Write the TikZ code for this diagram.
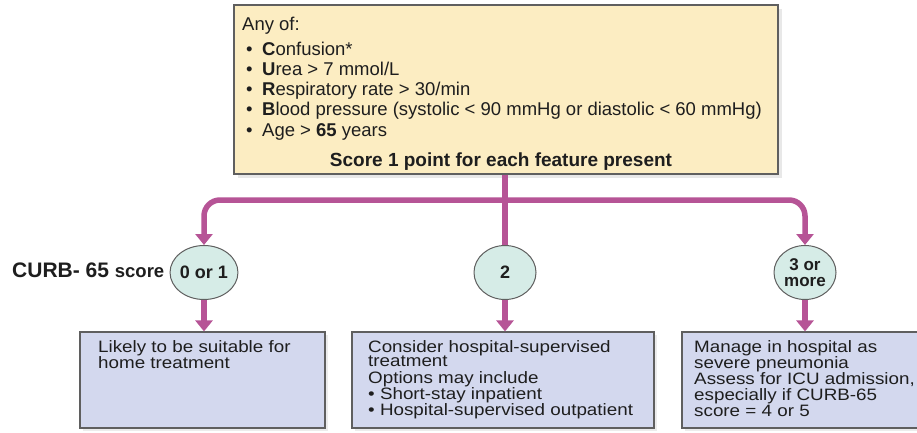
\documentclass[tikz,border=0pt]{standalone}
\usepackage{fontspec}
\setmainfont{Liberation Sans}
\newfontfamily\boxfont[FakeStretch=1.14]{Liberation Sans}
\usetikzlibrary{arrows.meta,shadows,shapes.geometric}
\definecolor{topfill}{RGB}{252,237,194}
\definecolor{boxfill}{RGB}{211,216,238}
\definecolor{circfill}{RGB}{214,236,231}
\definecolor{connc}{RGB}{182,84,150}
\definecolor{edgec}{RGB}{95,95,95}
\definecolor{txt}{RGB}{30,30,30}
\begin{document}
\begin{tikzpicture}[x=1pt,y=-1pt,
  topbox/.style={draw=edgec, line width=1.3pt, fill=topfill, inner sep=0,
    drop shadow={opacity=0.18, shadow xshift=4pt, shadow yshift=-4pt}},
  resbox/.style={draw=edgec, line width=1.2pt, fill=boxfill, inner sep=0,
    drop shadow={opacity=0.15, shadow xshift=3pt, shadow yshift=-3pt}},
  circ/.style={ellipse, draw=edgec, line width=1pt, fill=circfill, inner sep=0,
    minimum width=62pt, minimum height=54pt, align=center, text=txt,
    font=\bfseries\fontsize{18}{16}\selectfont},
  toptext/.style={anchor=base west, inner sep=0, text=txt, font=\fontsize{18.5}{20.3}\selectfont},
  restext/.style={anchor=base west, inner sep=0, text=txt, font=\boxfont\fontsize{16.5}{14}\selectfont},
  conn/.style={draw=connc, line width=5.5pt},
  arr/.style={-{Triangle[width=17pt,length=11pt]}}
]
\useasboundingbox[fill=white] (0,0) rectangle (917,432);

% top box
\node[topbox, minimum width=544pt, minimum height=169pt] (top) at (506,89.5) {};
\node[toptext] (anyof) at (242,30) {Any of:};
\node[toptext] (crit) at (246,55) {\begin{tabular}[t]{@{}l@{}}
\makebox[16pt][l]{\textbullet}\textbf{C}onfusion*\\
\makebox[16pt][l]{\textbullet}\textbf{U}rea > 7 mmol/L\\
\makebox[16pt][l]{\textbullet}\textbf{R}espiratory rate > 30/min\\
\makebox[16pt][l]{\textbullet}\textbf{B}lood pressure (systolic < 90 mmHg or diastolic < 60 mmHg)\\
\makebox[16pt][l]{\textbullet}Age > \textbf{65} years
\end{tabular}};
\node[anchor=base, inner sep=0, text=txt, font=\bfseries\fontsize{19}{21}\selectfont] (score) at (501,166) {Score 1 point for each feature present};

% circles
\node[circ] (c1) at (204,272.5) {0 or 1};
\node[circ] (c2) at (505,272.5) {2};
\node[circ, font=\bfseries\fontsize{17}{16}\selectfont] (c3) at (805,272.5) {3 or\\more};
\node[anchor=base west, inner sep=0, text=txt] (lab) at (12,277)
  {\bfseries\fontsize{21}{21}\selectfont CURB- 65 \fontsize{18.5}{21}\selectfont score};

% result boxes
\node[resbox, minimum width=245pt, minimum height=96pt] (b1) at (202.5,380) {};
\node[resbox, minimum width=302pt, minimum height=96pt] (b2) at (503,380) {};
\node[resbox, minimum width=245pt, minimum height=96pt] (b3) at (804.5,380) {};

\node[restext] (b1t) at (98,352) {\begin{tabular}[t]{@{}l@{}}
Likely to be suitable for\\ home treatment\end{tabular}};
\node[restext] (b2t) at (368,352) {\begin{tabular}[t]{@{}l@{}}
Consider hospital-supervised\\ treatment\\ Options may include\\
\textbullet\ Short-stay inpatient\\ \textbullet\ Hospital-supervised outpatient\end{tabular}};
\node[restext] (b3t) at (694,352) {\begin{tabular}[t]{@{}l@{}}
Manage in hospital as\\ severe pneumonia\\ Assess for ICU admission,\\
especially if CURB-65\\ score = 4 or 5\end{tabular}};

% connectors
\coordinate (hj) at (505,200);
\draw[conn] (top.south -| c2.north) -- (c2.north);
\draw[conn, arr, rounded corners=16pt] (hj) -| (c1.north);
\draw[conn, arr, rounded corners=16pt] (hj) -| (c3.north);
\draw[conn, arr] (c1.south) -- (c1.south |- b1.north);
\draw[conn, arr] (c2.south) -- (c2.south |- b2.north);
\draw[conn, arr] (c3.south) -- (c3.south |- b3.north);
\end{tikzpicture}
\end{document}
